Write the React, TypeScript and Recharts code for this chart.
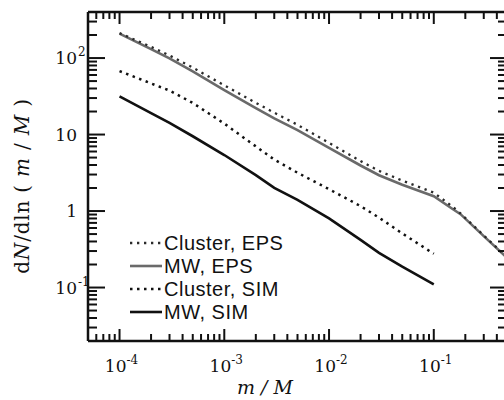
import React from 'react';
import { LineChart, Line, XAxis, YAxis, Customized } from 'recharts';

// ---- data ----
const massRatio = [1e-4, 2e-4, 3e-4, 5e-4, 1e-3, 2e-3, 3e-3, 5e-3, 1e-2, 2e-2, 3e-2, 5e-2, 0.1, 0.15, 0.18, 0.3, 0.5];
const clusterEPS = [212, 140, 108, 75, 44, 26, 19.3, 13.4, 7.8, 4.5, 3.35, 2.5, 1.74, 1.15, 0.93, 0.48, 0.25];
const mwEPS = [209, 131, 99, 67, 38, 22.2, 16.3, 11.4, 6.7, 3.94, 2.94, 2.21, 1.56, 1.07, 0.91, 0.47, 0.244];
const clusterSIM = [67.6, 46.6, 37.6, 25.9, 13.9, 7.0, 4.7, 3.17, 1.93, 1.16, 0.82, 0.51, 0.276, null, null, null, null];
const mwSIM = [31.6, 19.1, 14.2, 9.5, 5.4, 2.95, 2.01, 1.4, 0.8, 0.42, 0.284, 0.187, 0.11, null, null, null, null];

const seriesNames = ['Cluster, EPS', 'MW, EPS', 'Cluster, SIM', 'MW, SIM'];

const xDomain = [5e-5, 0.5];
const yDomain = [0.02, 400];
const xMajorTicks = [1e-4, 1e-3, 1e-2, 1e-1];
const yMajorTicks = [0.1, 1, 10, 100];
const xTickExponents = ['-4', '-3', '-2', '-1'];
const yTickLabels = [
  { base: '10', sup: '-1' },
  { base: '1', sup: '' },
  { base: '10', sup: '' },
  { base: '10', sup: '2' },
];
const decades = [1e-5, 1e-4, 1e-3, 1e-2, 1e-1, 1, 10, 100];

const data = massRatio.map((m, i) => ({
  m,
  clusterEPS: clusterEPS[i],
  mwEPS: mwEPS[i],
  clusterSIM: clusterSIM[i],
  mwSIM: mwSIM[i],
}));

function minorTicks(domain: number[]) {
  const out: number[] = [];
  decades.forEach((d) => {
    for (let k = 2; k <= 9; k++) {
      const v = Number((k * d).toPrecision(3));
      if (v > domain[0] && v < domain[1]) out.push(v);
    }
  });
  return out;
}

const xTicks = [...xMajorTicks, ...minorTicks(xDomain)].sort((a, b) => a - b);
const yTicks = [...yMajorTicks, ...minorTicks(yDomain)].sort((a, b) => a - b);

const isMajor = (v: number) => Math.abs(Math.log10(v) - Math.round(Math.log10(v))) < 1e-6;

const SERIF = '"DejaVu Serif", "Liberation Serif", serif';
const SANS = '"Liberation Sans", Arial, sans-serif';
const INK = '#111';

const XTick = (props: any) => {
  const { x, y, payload, side } = props;
  const v = Number(payload && payload.value);
  const major = isMajor(v);
  const len = major ? 12 : 7;
  const dir = side === 'bottom' ? -1 : 1;
  const idx = xMajorTicks.findIndex((t) => Math.abs(Math.log10(t) - Math.log10(v)) < 1e-6);
  return (
    <g>
      <line x1={x} y1={y} x2={x} y2={y + dir * len} stroke={INK} strokeWidth={2} />
      {major && side === 'bottom' && idx >= 0 && (
        <text x={x + 2} y={y + 31} textAnchor="middle" fontFamily={SERIF} fontSize={17} fill={INK}>
          10
          <tspan dy={-8} fontSize={12}>{xTickExponents[idx]}</tspan>
        </text>
      )}
    </g>
  );
};

const YTick = (props: any) => {
  const { x, y, payload, side } = props;
  const v = Number(payload && payload.value);
  const major = isMajor(v);
  const len = major ? 17 : 9;
  const dir = side === 'left' ? 1 : -1;
  const idx = yMajorTicks.findIndex((t) => Math.abs(Math.log10(t) - Math.log10(v)) < 1e-6);
  const lab = idx >= 0 ? yTickLabels[idx] : null;
  return (
    <g>
      <line x1={x} y1={y} x2={x + dir * len} y2={y} stroke={INK} strokeWidth={2} />
      {major && side === 'left' && lab && (
        <g>
          <text x={x - 11} y={y + 6} textAnchor="end" fontFamily={SERIF} fontSize={17} fill={INK}>
            {lab.base}
          </text>
          {lab.sup && (
            <text x={x - 10} y={y - 2} textAnchor="start" fontFamily={SERIF} fontSize={12} fill={INK}>
              {lab.sup}
            </text>
          )}
        </g>
      )}
    </g>
  );
};

const seriesStyles = [
  { key: 'clusterEPS', stroke: '#2a2a2a', width: 2.3, dash: '2.3 4.7' },
  { key: 'mwEPS', stroke: '#6a6a6a', width: 2.6, dash: undefined },
  { key: 'clusterSIM', stroke: INK, width: 2.5, dash: '2.5 4.5' },
  { key: 'mwSIM', stroke: INK, width: 2.6, dash: undefined },
];

const Overlay = () => (
  <g>
    <text
      x={29}
      y={186}
      transform="rotate(-90, 29, 186)"
      textAnchor="middle"
      fontFamily={SERIF}
      fontSize={20}
      letterSpacing={0.8}
      fill={INK}
    >
      d<tspan fontStyle="italic">N</tspan>/dln ( <tspan fontStyle="italic">m</tspan> / <tspan fontStyle="italic">M</tspan> )
    </text>
    <text x={265} y={394} textAnchor="middle" fontFamily={SERIF} fontSize={19} fontStyle="italic" fill={INK}>
      m / M
    </text>
    {seriesStyles.map((s, i) => {
      const yy = 243 + i * 23;
      return (
        <g key={s.key}>
          <line x1={130} y1={yy} x2={162} y2={yy} stroke={s.stroke} strokeWidth={s.width} strokeDasharray={s.dash} />
          <text x={164} y={yy + 7} fontFamily={SANS} fontSize={20} letterSpacing={0.5} fill={INK}>
            {seriesNames[i]}
          </text>
        </g>
      );
    })}
  </g>
);

const drawOrder = [1, 0, 2, 3];

export default function App() {
  return (
    <div style={{ position: 'absolute', left: 0, top: 0, width: 504, height: 400, overflow: 'hidden', background: '#fff' }}>
      <LineChart width={520} height={400} data={data} margin={{ top: 0, right: 0, bottom: 0, left: 0 }}>
        <XAxis
          xAxisId="b"
          dataKey="m"
          type="number"
          scale="log"
          domain={xDomain}
          allowDataOverflow
          ticks={xTicks}
          interval={0}
          tickSize={0}
          tickMargin={0}
          tickLine={false}
          height={59}
          axisLine={{ stroke: INK, strokeWidth: 2.5 }}
          tick={<XTick side="bottom" />}
        />
        <XAxis
          xAxisId="t"
          orientation="top"
          dataKey="m"
          type="number"
          scale="log"
          domain={xDomain}
          allowDataOverflow
          ticks={xTicks}
          interval={0}
          tickSize={0}
          tickMargin={0}
          tickLine={false}
          height={12}
          axisLine={{ stroke: INK, strokeWidth: 2.5 }}
          tick={<XTick side="top" />}
        />
        <YAxis
          yAxisId="l"
          type="number"
          scale="log"
          domain={yDomain}
          allowDataOverflow
          ticks={yTicks}
          interval={0}
          tickSize={0}
          tickMargin={0}
          tickLine={false}
          width={88}
          axisLine={{ stroke: INK, strokeWidth: 2.5 }}
          tick={<YTick side="left" />}
        />
        <YAxis
          yAxisId="r"
          orientation="right"
          type="number"
          scale="log"
          domain={yDomain}
          allowDataOverflow
          ticks={yTicks}
          interval={0}
          tickSize={0}
          tickMargin={0}
          tickLine={false}
          width={13}
          axisLine={{ stroke: INK, strokeWidth: 2.5 }}
          tick={<YTick side="right" />}
        />
        {drawOrder.map((i) => {
          const s = seriesStyles[i];
          return (
            <Line
              key={s.key}
              xAxisId="b"
              yAxisId="l"
              dataKey={s.key}
              name={seriesNames[i]}
              type="linear"
              stroke={s.stroke}
              strokeWidth={s.width}
              strokeDasharray={s.dash}
              dot={false}
              activeDot={false}
              isAnimationActive={false}
            />
          );
        })}
        <Customized component={<Overlay />} />
      </LineChart>
    </div>
  );
}
